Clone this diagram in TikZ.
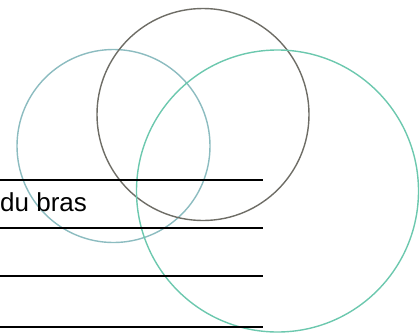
\documentclass[tikz,border=0pt]{standalone}
\usepackage{fontspec}
\setmainfont{Liberation Sans}
\usetikzlibrary{positioning}

\definecolor{ringblue}{HTML}{8CBCC0}
\definecolor{ringgrey}{HTML}{6E6D66}
\definecolor{ringmint}{HTML}{6CC8AE}

\begin{document}
\begin{tikzpicture}[
  % pixel grid of the reference: 1pt per px, y pointing down
  x=1pt, y=-1pt, font=\fontsize{26}{30}\selectfont,
  ring/.style={draw=#1, circle, line width=1.4pt, inner sep=0pt},
  rule/.style={line width=2pt, black},
  lbl/.style={anchor=base west, inner sep=0pt},
]
\useasboundingbox (0,0) rectangle (420,333);
% circles
\node[ring=ringblue, minimum size=193pt] (left)  at (113.5,146) {};
\node[ring=ringgrey, minimum size=212pt] (top)   at (203,114.5) {};
\node[ring=ringmint, minimum size=282pt] (right) at (277.5,191) {};
% ruled lines
\foreach \n/\y in {a/180,b/228,c/276,d/327} {
  \coordinate (\n0) at (0,\y);
  \coordinate (\n1) at (263,\y);
  \draw[rule] (\n0) -- (\n1);
}
\node[lbl] (arm) at (0,211) {du bras};
\end{tikzpicture}
\end{document}
